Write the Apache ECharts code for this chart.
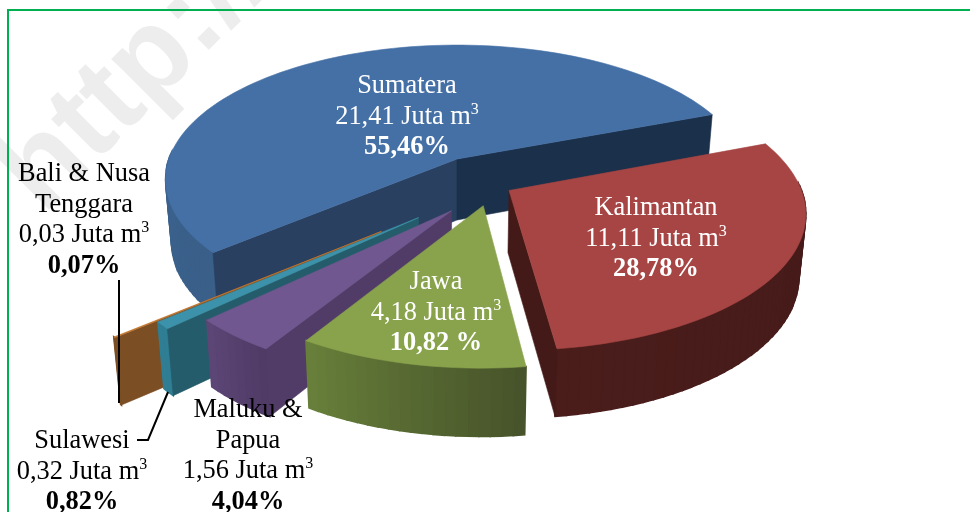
<!DOCTYPE html>
<html>
<head>
<meta charset="utf-8">
<style>
  html, body { margin: 0; padding: 0; background: #fff; }
  #chart { width: 970px; height: 512px; }
</style>
<script src="https://cdn.jsdelivr.net/npm/echarts@6/dist/echarts.min.js"></script>
</head>
<body>
<div id="chart"></div>
<script>
// nilai
var names = ['Sumatera', 'Kalimantan', 'Jawa', 'Maluku &\nPapua', 'Sulawesi', 'Bali & Nusa\nTenggara'];
var volumes = [21.41, 11.11, 4.18, 1.56, 0.32, 0.03];
var percents = ['55,46%', '28,78%', '10,82 %', '4,04%', '0,82%', '0,07%'];

// warna: atas, dinding luar (kiri, kanan), sisi dalam (awal, akhir)
var topColors = ['#4570a6', '#a64543', '#89a34d', '#71578f', '#3c92aa', '#c3762e'];
var wallFrom = ['#3a6089', '#431a18', '#47532a', '#4f3b66', '#2f7e94', '#7c4e24'];
var wallTo = ['#40689a', '#4a1d1b', '#677f3a', '#5c4676', '#2f7e94', '#7c4e24'];
var startFace = ['#2a4060', '#431b18', '#47532a', '#503c66', '#245c6b', '#7c4e24'];
var endFace = ['#1b304a', '#431a18', '#47532a', '#503c66', '#245c6b', '#7c4e24'];

// geser tiap potongan (explode) dan skala jari-jari
var explodeX = [0, 0.175, 0.088, -0.016, -0.123, -0.239];
var explodeY = [0, 0.233, 0.34, 0.375, 0.422, 0.514];
var radiusScale = [1, 0.98, 0.965, 0.975, 0.975, 0.966];

var paintOrder = [0, 1, 5, 4, 3, 2];
var startAngle = 220.6;

// proyeksi perspektif
var cx = 457, cy = 159, rx = 288, ry = 131, persp = 0.15;

function project(x, y, bottom) {
    var s = 1 / (1 - persp * y);
    var front = Math.max(y, 0);
    var sx = cx + rx * x * s - 4 * front * front;
    var sy = cy + ry * y * s - 2 * front * front;
    if (bottom) {
        sx = cx + (sx - cx) * 0.98;
        sy += 61 + 30 * (s - 1);
    }
    return [sx, sy];
}

function mixColor(a, b, t) {
    return echarts.color.lerp(t, [a, b]);
}

function sliceAngles() {
    var total = volumes.reduce(function (a, b) { return a + b; }, 0);
    var angle = startAngle;
    return volumes.map(function (v) {
        var from = angle;
        angle -= v / total * 360;
        return [from, angle];
    });
}

var angles = sliceAngles();

function polygon(points, color, line) {
    return {
        type: 'polygon',
        shape: { points: points },
        style: { fill: color, stroke: color, lineWidth: line || 0.6 },
        silent: true
    };
}

function renderSlice(params, api) {
    var i = api.value(0);
    var ex = explodeX[i], ey = explodeY[i], r = radiusScale[i];
    var from = angles[i][0], to = angles[i][1];
    var steps = Math.max(2, Math.ceil((from - to) / 2));
    var rim = [];
    for (var k = 0; k <= steps; k++) {
        var a = (from + (to - from) * k / steps) * Math.PI / 180;
        rim.push([ex + r * Math.cos(a), ey - r * Math.sin(a)]);
    }
    var children = [];

    // dinding luar per segmen
    for (k = 0; k < steps; k++) {
        var t = k / (steps - 1 || 1);
        // warna hanya berubah di bagian yang kelihatan
        var midY = (rim[k][1] + rim[k + 1][1]) / 2 - ey;
        if (midY < -0.05) continue;
        children.push(polygon([
            project(rim[k][0], rim[k][1]),
            project(rim[k + 1][0], rim[k + 1][1]),
            project(rim[k + 1][0], rim[k + 1][1], true),
            project(rim[k][0], rim[k][1], true)
        ], mixColor(wallFrom[i], wallTo[i], t), 1.6));
    }

    // sisi dalam yang menghadap kamera saja
    var apexTop = project(ex, ey), apexBot = project(ex, ey, true);
    var first = rim[0], last = rim[steps];
    if (project(first[0], first[1])[0] < apexTop[0]) {
        children.push(polygon([apexTop, project(first[0], first[1]), project(first[0], first[1], true), apexBot], startFace[i]));
    }
    if (project(last[0], last[1])[0] > apexTop[0]) {
        children.push(polygon([apexTop, project(last[0], last[1]), project(last[0], last[1], true), apexBot], endFace[i]));
    }

    // permukaan atas
    var top = [apexTop];
    rim.forEach(function (p) { top.push(project(p[0], p[1])); });
    children.push(polygon(top, topColors[i]));

    return { type: 'group', children: children };
}

function labelText(i) {
    var lines = names[i].split('\n').map(function (n) { return '{n|' + n + '}'; });
    lines.push('{n|' + volumes[i].toFixed(2).replace('.', ',') + ' Juta m}{s|3}');
    lines.push('{b|' + percents[i] + '}');
    return lines.join('\n');
}

// posisi label: tengah-x, atas blok, warna
var labelX = [407, 656, 436, 248, 82, 84];
var labelY = [71, 193, 267, 395, 426, 159];
var labelColor = ['#fff', '#fff', '#fff', '#000', '#000', '#000'];

function labelElement(i) {
    var c = labelColor[i];
    return {
        type: 'text',
        x: labelX[i],
        y: labelY[i],
        z: 20,
        silent: true,
        style: {
            text: labelText(i),
            align: 'center',
            verticalAlign: 'top',
            rich: {
                n: { fontFamily: 'Liberation Serif', fontSize: 26.4, lineHeight: 30.6, fill: c, color: c },
                b: { fontFamily: 'Liberation Serif', fontSize: 26.4, fontWeight: 'bold', lineHeight: 30.6, fill: c, color: c },
                s: { fontFamily: 'Liberation Serif', fontSize: 16, lineHeight: 30.6, verticalAlign: 'top', fill: c, color: c }
            }
        }
    };
}

var chart = echarts.init(document.getElementById('chart'));
chart.setOption({
    animation: false,
    backgroundColor: '#fff',
    graphic: {
        elements: [
            {
                type: 'text',
                x: 62,
                y: 234,
                rotation: Math.PI / 4,
                z: 0,
                silent: true,
                style: {
                    text: 'http://www',
                    fontFamily: 'Liberation Sans',
                    fontWeight: 'bold',
                    fontSize: 118,
                    fill: '#ededed',
                    verticalAlign: 'bottom'
                }
            },
            {
                type: 'polyline',
                z: 1,
                silent: true,
                shape: { points: [[8, 512], [8, 10], [970, 10]] },
                style: { stroke: '#00b050', lineWidth: 2, fill: null }
            },
            {
                type: 'polyline',
                z: 20,
                silent: true,
                shape: { points: [[119, 280], [119, 403]] },
                style: { stroke: '#000', lineWidth: 2, fill: null }
            },
            {
                type: 'polyline',
                z: 20,
                silent: true,
                shape: { points: [[137, 440], [148, 440], [168, 392]] },
                style: { stroke: '#000', lineWidth: 2, fill: null }
            }
        ].concat(names.map(function (n, i) { return labelElement(i); }))
    },
    series: [{
        type: 'custom',
        coordinateSystem: 'none',
        silent: true,
        z: 5,
        renderItem: renderSlice,
        data: paintOrder.map(function (i) { return [i]; })
    }]
});
</script>
</body>
</html>
